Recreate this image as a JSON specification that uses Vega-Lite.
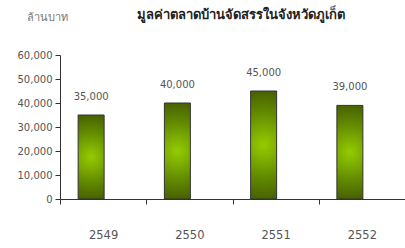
{
  "$schema": "https://vega.github.io/schema/vega-lite/v6.json",
  "width": 345,
  "height": 144,
  "autosize": {"type": "none"},
  "padding": {"left": 60, "top": 55, "right": 0, "bottom": 49},
  "background": "white",
  "view": {"stroke": null},
  "title": {
    "text": "มูลค่าตลาดบ้านจัดสรรในจังหวัดภูเก็ต",
    "anchor": "middle",
    "fontSize": 13,
    "fontWeight": "bold",
    "color": "#222222",
    "font": "Liberation Sans",
    "baseline": "middle",
    "offset": -17,
    "dx": 8
  },
  "data": {
    "values": [
      {"year": "2549", "value": 35000},
      {"year": "2550", "value": 40000},
      {"year": "2551", "value": 45000},
      {"year": "2552", "value": 39000}
    ]
  },
  "encoding": {
    "x": {
      "field": "year",
      "type": "ordinal",
      "scale": {"paddingInner": 0, "paddingOuter": 0},
      "axis": {
        "title": null,
        "labelAngle": 0,
        "tickBand": "extent",
        "labelPadding": 25,
        "labelFontSize": 11.5,
        "labelColor": "#555555",
        "labelFont": "DejaVu Sans",
        "domainColor": "#333333",
        "tickColor": "#333333",
        "tickSize": 5
      }
    },
    "y": {
      "field": "value",
      "type": "quantitative",
      "scale": {"domain": [0, 60000]},
      "axis": {
        "title": "ล้านบาท",
        "titleAngle": 0,
        "titleX": -13,
        "titleY": -38,
        "titleAlign": "center",
        "titleBaseline": "middle",
        "titleFontWeight": "normal",
        "titleFontSize": 11,
        "titleColor": "#777777",
        "titleFont": "Liberation Sans",
        "values": [0, 10000, 20000, 30000, 40000, 50000, 60000],
        "format": ",d",
        "grid": false,
        "labelFontSize": 10,
        "labelColor": "#555555",
        "labelFont": "DejaVu Sans",
        "labelPadding": 3,
        "domainColor": "#333333",
        "tickColor": "#333333",
        "tickSize": 5
      }
    }
  },
  "layer": [
    {
      "mark": {
        "type": "bar",
        "width": 26,
        "xOffset": -12,
        "stroke": "#333333",
        "strokeWidth": 1,
        "fill": {
          "gradient": "radial",
          "x1": 0.5, "y1": 0.5, "r1": 0,
          "x2": 0.5, "y2": 0.5, "r2": 0.6,
          "stops": [
            {"offset": 0, "color": "#94cc00"},
            {"offset": 0.5, "color": "#638a00"},
            {"offset": 1, "color": "#3a4f00"}
          ]
        }
      }
    },
    {
      "mark": {
        "type": "text",
        "xOffset": -12,
        "dy": -18,
        "fontSize": 10,
        "color": "#555555",
        "font": "DejaVu Sans"
      },
      "encoding": {
        "text": {"field": "value", "type": "quantitative", "format": ",d"}
      }
    }
  ]
}
